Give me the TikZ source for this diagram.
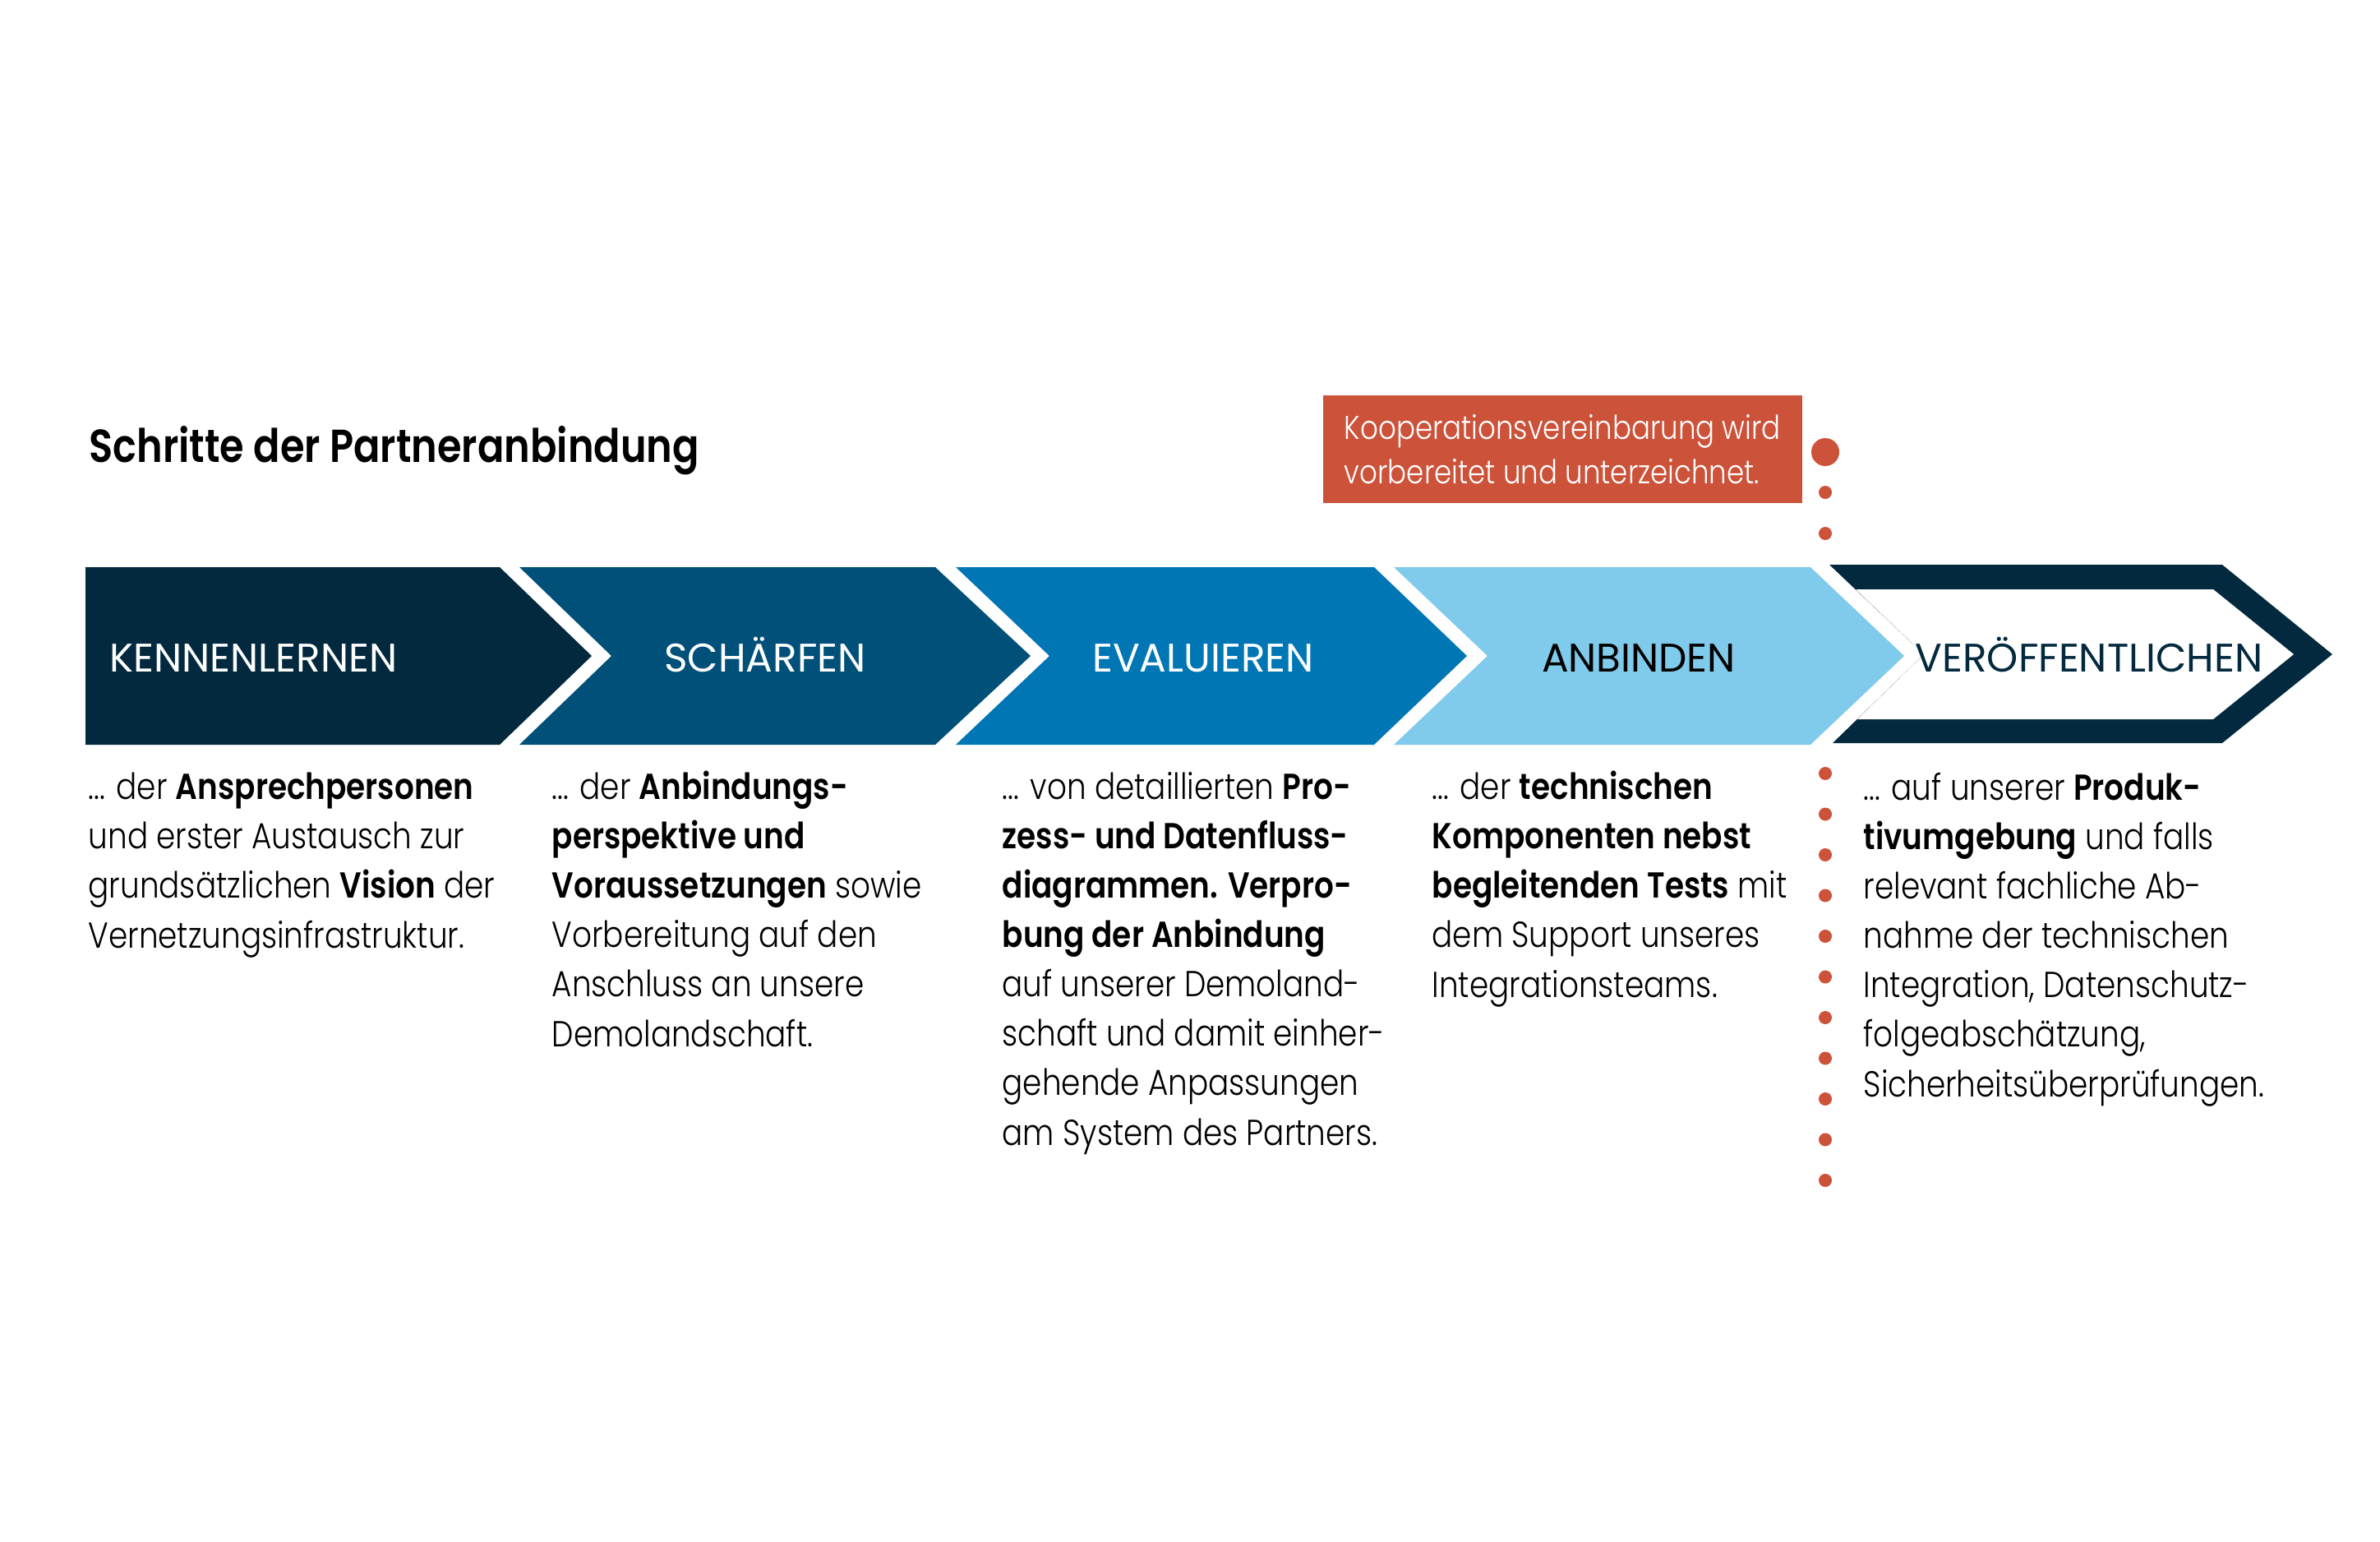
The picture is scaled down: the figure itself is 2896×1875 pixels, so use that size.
\documentclass[tikz,border=0pt]{standalone}
\usepackage{fontspec}
\setmainfont{Poppins}[UprightFont={* Light}, BoldFont={* SemiBold}, FakeStretch=0.85]
\newfontfamily\stepfont{Poppins}
\definecolor{navy}{HTML}{03293E}
\definecolor{petrol}{HTML}{00507A}
\definecolor{ocean}{HTML}{0076B5}
\definecolor{sky}{HTML}{80CAEB}
\definecolor{rust}{HTML}{CC523A}

\begin{document}
\begin{tikzpicture}[x=0.01cm, y=-0.01cm,
    steplabel/.style={inner sep=0pt, anchor=base, font=\stepfont\fontsize{13.8}{16}\selectfont},
    body/.style={inner sep=0pt, anchor=base west, align=left, font=\fontsize{12.5}{17.07}\selectfont}]
    \useasboundingbox (0,0) rectangle (2896,1875);
    \node[anchor=base west, inner sep=0pt, font=\bfseries\fontsize{16}{19}\selectfont] (titel) at (108,562) {Schritte der Partneranbindung};
    \fill[navy] (104,690) -- (608,690) -- (720,798) -- (608,906) -- (104,906) -- cycle;
    \fill[petrol] (632,690) -- (1138,690) -- (1254,798) -- (1138,906) -- (632,906) -- (744,798) -- cycle;
    \fill[ocean] (1163,690) -- (1672,690) -- (1785,798) -- (1672,906) -- (1163,906) -- (1277,798) -- cycle;
    \fill[sky] (1696,690) -- (2203,690) -- (2317,798) -- (2203,906) -- (1696,906) -- (1810,798) -- cycle;
    \fill[navy] (2226,687) -- (2704,687) -- (2838,796) -- (2704,904) -- (2230,904) -- (2341,796) -- cycle;
    \fill[white] (2258,717) -- (2693,717) -- (2791,796) -- (2693,875) -- (2260,875) -- (2341,796) -- cycle;
    \node[steplabel, anchor=base west, white] (kennen) at (133,817) {KENNENLERNEN};
    \node[steplabel, white] (schaerfen) at (931,817) {SCHÄRFEN};
    \node[steplabel, white] (evaluieren) at (1464,817) {EVALUIEREN};
    \node[steplabel, black] (anbinden) at (1994,817) {ANBINDEN};
    \node[steplabel, navy] (veroeff) at (2542,817) {VERÖFFENTLICHEN};
    \node[anchor=north west, fill=rust, text=white, align=left, minimum width=5.83cm, minimum height=1.31cm,
        inner xsep=0.2cm, inner ysep=0pt, font=\fontsize{11.4}{15.37}\selectfont] (vertrag) at (1609,480)
        {Kooperationsvereinbarung wird\\vorbereitet und unterzeichnet.};
    \fill[rust] (2221,550) circle (0.17cm);
    \foreach \y in {599,649} \fill[rust] (2221,\y) circle (0.08cm);
    \foreach \i in {0,...,10} \fill[rust] (2221,{941+49.5*\i}) circle (0.08cm);
    \node[body] (text1) at (107,1153) {... der \textbf{Ansprechpersonen}\\und erster Austausch zur\\grundsätzlichen \textbf{Vision} der\\Vernetzungsinfrastruktur.};
    \node[body] (text2) at (671,1273) {... der \textbf{Anbindungs-}\\\textbf{perspektive und}\\\textbf{Voraussetzungen} sowie\\Vorbereitung auf den\\Anschluss an unsere\\Demolandschaft.};
    \node[body] (text3) at (1219,1393) {... von detaillierten \textbf{Pro-}\\\textbf{zess- und Datenfluss-}\\\textbf{diagrammen. Verpro-}\\\textbf{bung der Anbindung}\\auf unserer Demoland-\\schaft und damit einher-\\gehende Anpassungen\\am System des Partners.};
    \node[body] (text4) at (1742,1213) {... der \textbf{technischen}\\\textbf{Komponenten nebst}\\\textbf{begleitenden Tests} mit\\dem Support unseres\\Integrationsteams.};
    \node[body] (text5) at (2267,1334) {... auf unserer \textbf{Produk-}\\\textbf{tivumgebung} und falls\\relevant fachliche Ab-\\nahme der technischen\\Integration, Datenschutz-\\folgeabschätzung,\\Sicherheitsüberprüfungen.};
\end{tikzpicture}
\end{document}
